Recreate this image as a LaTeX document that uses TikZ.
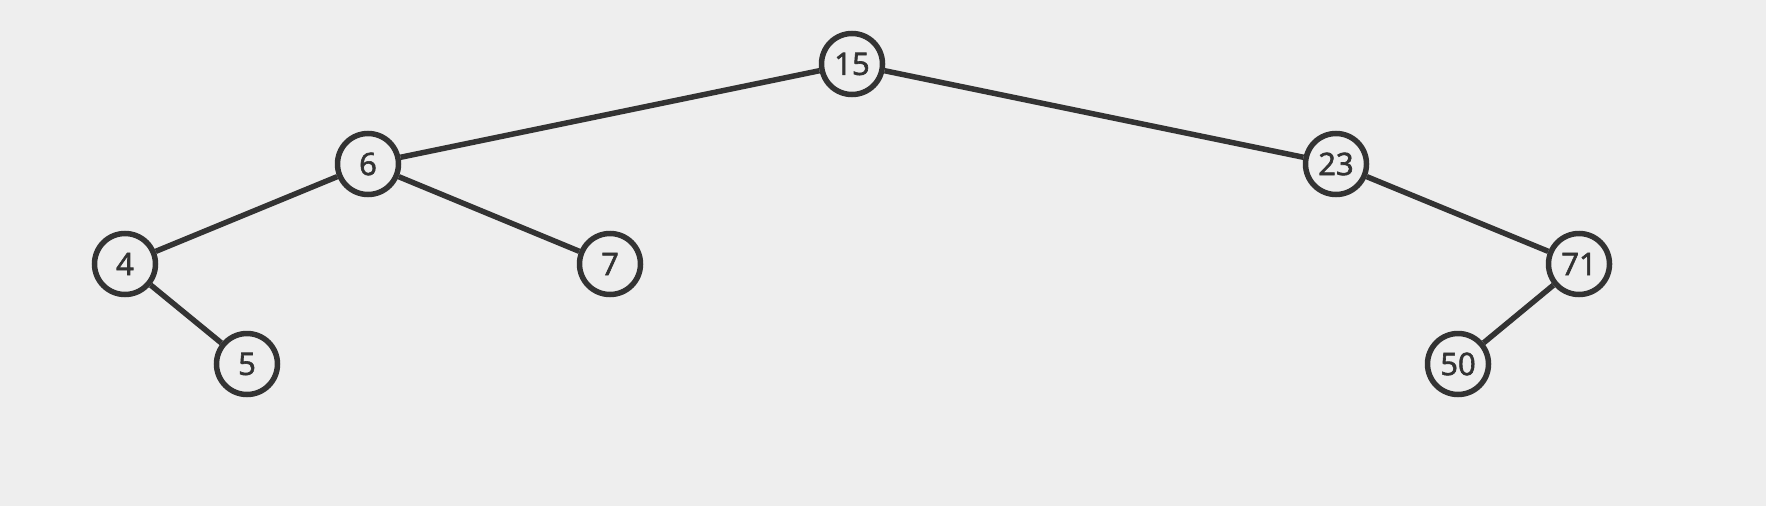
\documentclass[tikz,border=0pt]{standalone}
\usepackage{fontspec}
\setmainfont{Open Sans}
\newfontfamily\nodefont{Open Sans}[FakeBold=2]
\definecolor{bg}{HTML}{EEEEEE}
\definecolor{ink}{HTML}{333333}
\begin{document}
\begin{tikzpicture}[x=1pt,y=-1pt,
  tnode/.style={circle,draw=ink,fill=bg,line width=5.5pt,minimum size=61pt,inner sep=0pt,
    text=ink,font=\nodefont\fontsize{31}{31}\selectfont},
  tedge/.style={draw=ink,line width=5.5pt}]
\fill[bg] (0,0) rectangle (1766,506);
\useasboundingbox (0,0) rectangle (1766,506);
\node[tnode] (n15) at (852,64) {15};
\node[tnode] (n6) at (368,164) {6};
\node[tnode] (n23) at (1336,164) {23};
\node[tnode] (n4) at (125,264) {4};
\node[tnode] (n7) at (610,264) {7};
\node[tnode] (n71) at (1579,264) {71};
\node[tnode] (n5) at (247,364) {5};
\node[tnode] (n50) at (1458,364) {50};
\draw[tedge] (n15) -- (n6);
\draw[tedge] (n15) -- (n23);
\draw[tedge] (n6) -- (n4);
\draw[tedge] (n6) -- (n7);
\draw[tedge] (n4) -- (n5);
\draw[tedge] (n23) -- (n71);
\draw[tedge] (n71) -- (n50);
\end{tikzpicture}
\end{document}
